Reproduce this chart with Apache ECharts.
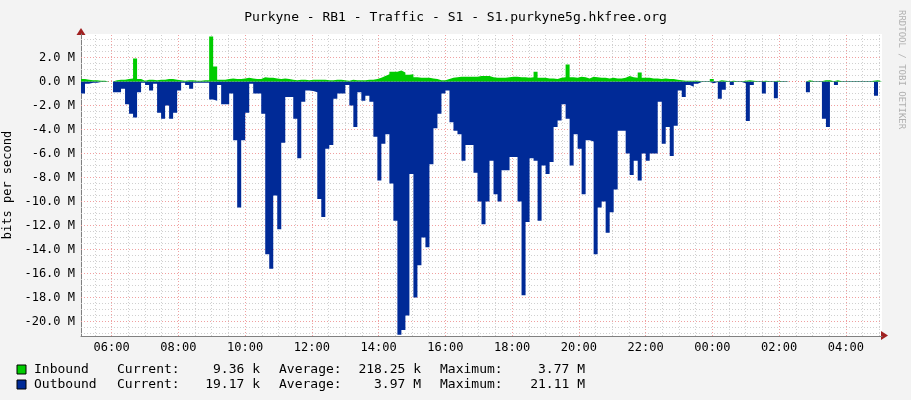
<!DOCTYPE html>
<html>
<head>
<meta charset="utf-8">
<script src="https://cdn.jsdelivr.net/npm/echarts@6/dist/echarts.min.js"></script>
<style>
  html, body { margin: 0; padding: 0; background: #f3f3f3; }
  #chart { width: 911px; height: 400px; }
</style>
</head>
<body>
<div id="chart"></div>
<script>
// one bin = 7.2 min, starting 05:05 (t = 0), 200 bins = 24h
const binMinutes = 7.2;

// outbound, Mbit/s (drawn below zero)
const outbound = [
  1.0, 0.2, 0.1, 0.1, 0.05, 0.05, 0, 0, 0.9, 0.9,
  0.6, 1.9, 2.7, 3.0, 0.9, 0.1, 0.3, 0.75, 0.2, 2.6,
  3.1, 2.0, 3.1, 2.6, 0.75, 0.1, 0.3, 0.6, 0.1, 0.1,
  0.1, 0.1, 1.5, 1.6, 0.3, 1.9, 1.9, 1.0, 4.9, 10.5,
  4.9, 2.6, 0.2, 1.0, 1.0, 2.7, 14.4, 15.6, 9.5, 12.3,
  5.1, 1.3, 1.3, 3.1, 6.4, 1.7, 0.75, 0.8, 0.9, 9.8,
  11.3, 5.6, 5.3, 1.45, 1.0, 1.0, 0.3, 2.0, 3.8, 0.9,
  1.6, 1.2, 1.7, 4.6, 8.25, 5.2, 4.4, 8.5, 11.6, 21.1,
  20.7, 19.5, 7.7, 18.0, 15.3, 13.0, 13.8, 6.9, 3.9, 2.7,
  1.0, 0.75, 3.4, 4.1, 4.4, 6.6, 5.3, 5.3, 7.6, 10.0,
  11.9, 10.0, 6.6, 9.4, 10.0, 7.4, 7.4, 6.3, 6.3, 10.0,
  17.8, 11.7, 6.4, 6.6, 11.6, 7.0, 7.7, 6.7, 3.8, 3.25,
  1.9, 3.1, 7.0, 4.4, 5.6, 9.4, 4.9, 5.0, 14.4, 10.5,
  10.0, 12.6, 10.9, 9.0, 4.1, 4.1, 6.0, 7.8, 6.6, 8.25,
  6.0, 6.6, 6.0, 6.0, 1.7, 5.2, 3.8, 6.2, 3.7, 0.75,
  1.3, 0.3, 0.45, 0.2, 0.05, 0.05, 0.05, 0.15, 0.05, 1.45,
  0.7, 0.05, 0.3, 0.05, 0.05, 0.15, 3.3, 0.3, 0.05, 0.05,
  1.0, 0.05, 0.05, 1.4, 0.05, 0.05, 0, 0, 0, 0,
  0, 0.9, 0.05, 0.05, 0.05, 3.1, 3.8, 0.05, 0.3, 0.05,
  0.05, 0.05, 0.05, 0.05, 0.05, 0.05, 0.05, 0.05, 1.2, 0.05
];

// inbound, Mbit/s
const inbound = [
  0.2, 0.15, 0.1, 0.1, 0.05, 0.05, 0, 0, 0.1, 0.15,
  0.15, 0.2, 0.25, 1.9, 0.2, 0.05, 0.15, 0.15, 0.1, 0.15,
  0.15, 0.2, 0.2, 0.15, 0.1, 0.05, 0.1, 0.1, 0.05, 0.05,
  0.1, 0.1, 3.75, 1.25, 0.15, 0.15, 0.2, 0.25, 0.2, 0.2,
  0.25, 0.3, 0.25, 0.2, 0.2, 0.35, 0.3, 0.3, 0.25, 0.2,
  0.25, 0.2, 0.15, 0.1, 0.15, 0.15, 0.1, 0.15, 0.15, 0.15,
  0.15, 0.1, 0.1, 0.15, 0.15, 0.1, 0.05, 0.15, 0.1, 0.1,
  0.1, 0.15, 0.15, 0.2, 0.3, 0.45, 0.6, 0.8, 0.8, 0.9,
  0.75, 0.55, 0.6, 0.35, 0.3, 0.3, 0.3, 0.25, 0.2, 0.1,
  0.1, 0.2, 0.3, 0.35, 0.4, 0.4, 0.4, 0.4, 0.4, 0.45,
  0.45, 0.45, 0.35, 0.3, 0.3, 0.3, 0.35, 0.4, 0.4, 0.35,
  0.35, 0.3, 0.35, 0.8, 0.3, 0.3, 0.25, 0.25, 0.2, 0.3,
  0.35, 1.4, 0.35, 0.3, 0.4, 0.35, 0.25, 0.4, 0.35, 0.3,
  0.3, 0.25, 0.3, 0.25, 0.25, 0.3, 0.45, 0.35, 0.3, 0.75,
  0.3, 0.3, 0.25, 0.25, 0.2, 0.25, 0.2, 0.2, 0.15, 0.1,
  0.05, 0.05, 0.05, 0.05, 0.02, 0.02, 0.02, 0.2, 0.02, 0.1,
  0.05, 0.02, 0.05, 0.02, 0.02, 0.05, 0.1, 0.05, 0.02, 0.02,
  0.05, 0.02, 0.02, 0.05, 0.02, 0.02, 0, 0, 0, 0,
  0, 0.1, 0.02, 0.02, 0.02, 0.1, 0.1, 0.02, 0.1, 0.02,
  0.02, 0.02, 0.02, 0.02, 0.02, 0.02, 0.02, 0.05, 0.1, 0.02
];

const hourLabels = ['06:00', '08:00', '10:00', '12:00', '14:00', '16:00',
  '18:00', '20:00', '22:00', '00:00', '02:00', '04:00'];
const yLabels = [2, 0, -2, -4, -6, -8, -10, -12, -14, -16, -18, -20];

const MONO = '"DejaVu Sans Mono", monospace';
const firstHour = 55; // 06:00 is 55 min after 05:05
const hourPos = hourLabels.map((_, i) => firstHour + i * 120);

function toSeries(values, sign) {
  const pts = values.map((v, i) => [i * binMinutes, sign * v]);
  pts.push([values.length * binMinutes, sign * values[values.length - 1]]);
  return pts;
}

// grid lines (rrdtool style)
let gridLines = [];
for (let t = firstHour - 30; t <= 1440; t += 30) {
  const major = (t - firstHour) % 120 === 0;
  gridLines.push({ xAxis: t, lineStyle: { color: major ? '#f0a0a0' : '#d0d0d0' } });
}
for (let v = -21; v <= 3.9; v += 0.5) {
  if (v === 0) continue;
  const major = v % 2 === 0;
  gridLines.push({ yAxis: v, lineStyle: { color: major ? '#f0a0a0' : '#d0d0d0' } });
}

const chart = echarts.init(document.getElementById('chart'));
chart.setOption({
  backgroundColor: '#f3f3f3',
  animation: false,
  title: {
    text: 'Purkyne - RB1 - Traffic - S1 - S1.purkyne5g.hkfree.org',
    left: 'center', top: 6,
    textStyle: { fontFamily: MONO, fontWeight: 'normal', fontSize: 13, color: '#000' }
  },
  grid: { left: 81, right: 29, top: 34, bottom: 64, backgroundColor: '#fff', show: true, borderWidth: 0,
    containLabel: false, outerBoundsMode: 'none' },
  xAxis: {
    type: 'value', min: 0, max: 1440,
    axisLine: { onZero: false, lineStyle: { color: '#808080', width: 1 } },
    axisTick: { show: false },
    splitLine: { show: false },
    axisLabel: {
      customValues: hourPos,
      formatter: (v) => hourLabels[hourPos.indexOf(v)] || '',
      fontFamily: MONO, fontSize: 12, color: '#000', margin: 6
    }
  },
  yAxis: {
    type: 'value', min: -21.2, max: 3.95,
    axisLine: { show: true, lineStyle: { color: '#808080', width: 1 } },
    axisTick: { show: false },
    splitLine: { show: false },
    name: 'bits per second', nameLocation: 'middle', nameGap: 62, nameRotate: 90,
    nameTextStyle: { fontFamily: MONO, fontSize: 12, color: '#000' },
    axisLabel: {
      customValues: yLabels,
      formatter: (v) => v.toFixed(1) + ' M',
      fontFamily: MONO, fontSize: 12, color: '#000', margin: 6
    }
  },
  series: [
    {
      name: 'grid', type: 'line', data: [], silent: true, zlevel: 0,
      markLine: { silent: true, symbol: 'none', label: { show: false },
        lineStyle: { type: [1, 2], width: 1 }, data: gridLines, animation: false }
    },
    {
      name: 'Outbound', type: 'line', step: 'end', symbol: 'none', zlevel: 1,
      data: toSeries(outbound, -1),
      lineStyle: { width: 0 }, areaStyle: { color: '#002a97', opacity: 1 }
    },
    {
      name: 'Inbound', type: 'line', step: 'end', symbol: 'none', zlevel: 1,
      data: toSeries(inbound, 1),
      lineStyle: { width: 0 }, areaStyle: { color: '#00cc00', opacity: 1 }
    },
    {
      name: 'zero', type: 'line', symbol: 'none', silent: true, data: [], zlevel: 0,
      markLine: { silent: true, symbol: 'none', label: { show: false },
        lineStyle: { type: [1, 2], color: '#f08080', width: 1 }, data: [{ yAxis: 0 }] }
    }
  ],
  graphic: [
    { type: 'polygon', shape: { points: [[881, 331], [888, 335.5], [881, 340]] }, style: { fill: '#a02020' } },
    { type: 'polygon', shape: { points: [[76.5, 35], [81, 28], [85.5, 35]] }, style: { fill: '#a02020' } },
    { type: 'text', x: 906, y: 10, rotation: -Math.PI / 2,
      style: { text: 'RRDTOOL / TOBI OETIKER', fill: '#b0b0b0', font: '9px ' + MONO } },
    { type: 'rect', shape: { x: 17, y: 365, width: 9, height: 9 }, style: { fill: '#00cc00', stroke: '#000', lineWidth: 1 } },
    { type: 'rect', shape: { x: 17, y: 380, width: 9, height: 9 }, style: { fill: '#002a97', stroke: '#000', lineWidth: 1 } },
    ...[['Inbound', '9.36 k', '218.25 k', '3.77 M', 369.5], ['Outbound', '19.17 k', '3.97 M', '21.11 M', 384.5]]
      .flatMap(([n, c, a, m, y]) => [
        { type: 'text', x: 34, y: y, style: { text: n, font: '13px ' + MONO, fill: '#000', textVerticalAlign: 'middle' } },
        { type: 'text', x: 117, y: y, style: { text: 'Current:', font: '13px ' + MONO, fill: '#000', textVerticalAlign: 'middle' } },
        { type: 'text', x: 260, y: y, style: { text: c, font: '13px ' + MONO, fill: '#000', textAlign: 'right', textVerticalAlign: 'middle' } },
        { type: 'text', x: 279, y: y, style: { text: 'Average:', font: '13px ' + MONO, fill: '#000', textVerticalAlign: 'middle' } },
        { type: 'text', x: 421, y: y, style: { text: a, font: '13px ' + MONO, fill: '#000', textAlign: 'right', textVerticalAlign: 'middle' } },
        { type: 'text', x: 440, y: y, style: { text: 'Maximum:', font: '13px ' + MONO, fill: '#000', textVerticalAlign: 'middle' } },
        { type: 'text', x: 585, y: y, style: { text: m, font: '13px ' + MONO, fill: '#000', textAlign: 'right', textVerticalAlign: 'middle' } }
      ])
  ]
});
</script>
</body>
</html>
